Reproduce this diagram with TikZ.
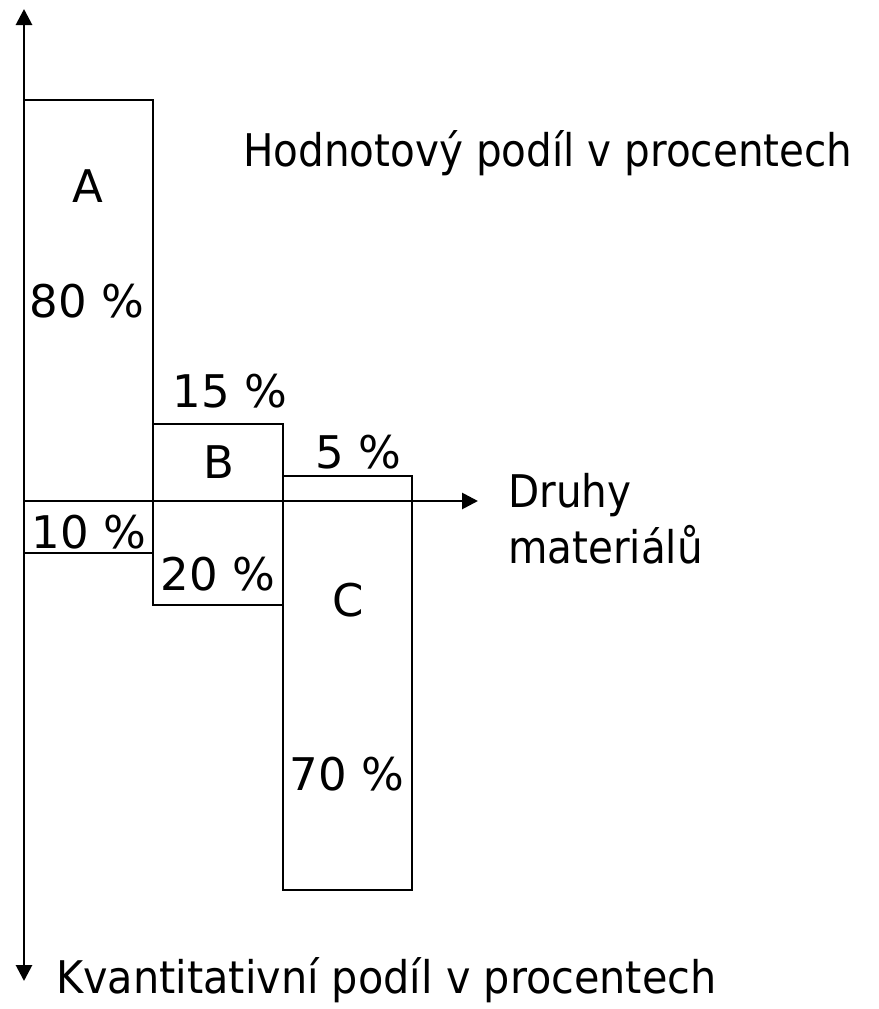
\documentclass[tikz,border=0pt]{standalone}
\usepackage{fontspec}
\setmainfont{DejaVu Sans}
\newfontfamily\narrowfont[FakeStretch=0.9]{DejaVu Sans}
\newfontfamily\kvfont[FakeStretch=0.92]{DejaVu Sans}
\usetikzlibrary{arrows.meta}
\tikzset{
  ln/.style={line width=2.8pt, line join=miter},
  axis/.style={line width=2.8pt, -{Triangle[length=16pt,width=16pt]}},
  lbl/.style={inner sep=0pt, anchor=base, font=\fontsize{45}{56}\selectfont},
  lblw/.style={inner sep=0pt, anchor=base west, font=\narrowfont\fontsize{45}{56}\selectfont},
}
\begin{document}
\begin{tikzpicture}[x=1pt,y=-1pt]
\useasboundingbox (0,0) rectangle (878,1009);
% coordinates
\coordinate (O) at (24,501);
\coordinate (top) at (24,9);
\coordinate (bot) at (24,981);
\coordinate (right) at (478,501);
% boxes
\draw[ln] (24,100) rectangle (153,501);
\draw[ln] (153,424) rectangle (283,501);
\draw[ln] (283,476) rectangle (412,501);
\draw[ln] (24,501) rectangle (153,553);
\draw[ln] (153,501) rectangle (283,605);
\draw[ln] (283,501) rectangle (412,890);
% axes
\draw[axis] (O) -- (top);
\draw[axis] (O) -- (bot);
\draw[axis] (O) -- (right);
% labels
\node[lbl] (lA) at (88,202) {A};
\node[lbl] (l80) at (87,317) {80 \%};
\node[lbl] (l15) at (230,407) {15 \%};
\node[lbl] (lB) at (219,478) {B};
\node[lbl] (l5) at (358,468) {5 \%};
\node[lbl] (l10) at (89,548) {10 \%};
\node[lbl] (l20) at (218,590) {20 \%};
\node[lbl] (lC) at (348,616) {C};
\node[lbl] (l70) at (347,790) {70 \%};
\node[lblw] (hod) at (243,166) {Hodnotový podíl v procentech};
\node[lblw] (dru) at (508,507) {Druhy};
\node[lblw] (mat) at (508,563) {materiálů};
\node[lblw, font=\kvfont\fontsize{45}{56}\selectfont] (kva) at (56,993) {Kvantitativní podíl v procentech};
\end{tikzpicture}
\end{document}
